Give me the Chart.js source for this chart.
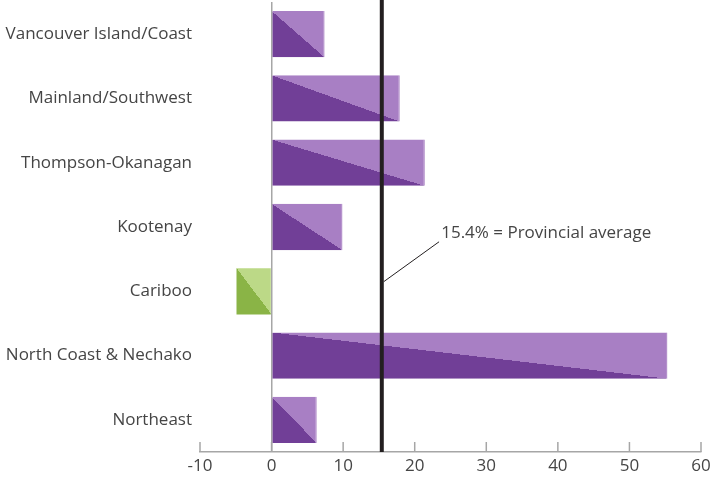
<!DOCTYPE html>
<html>
<head>
<meta charset="utf-8">
<script src="https://cdn.jsdelivr.net/npm/chart.js@4"></script>
<style>
  html, body { margin: 0; padding: 0; background: #fff; }
  #wrap { width: 723px; height: 482px; }
</style>
</head>
<body>
<div id="wrap"><canvas id="regionChart"></canvas></div>
<script>
// Data
const regions = [
    'Vancouver Island/Coast',
    'Mainland/Southwest',
    'Thompson-Okanagan',
    'Kootenay',
    'Cariboo',
    'North Coast & Nechako',
    'Northeast'
];
const changes = [7.4, 17.9, 21.4, 9.9, -4.9, 55.3, 6.3];
const xTicks = [-10, 0, 10, 20, 30, 40, 50, 60];
const provincialAverage = 15.4;
const averageLabel = '15.4% = Provincial average';

const BAR_PCT = 0.72;
const FONT = '"Open Sans", "Noto Sans", sans-serif';
const TEXT = '#454545';
const AXIS = '#a6a6a6';

// Two-tone fill split along the bar's diagonal (dark bottom-left, light top-right)
function splitFill(context) {
    const chart = context.chart;
    const xs = chart.scales.x, ys = chart.scales.y;
    if (!chart.chartArea || !xs || !ys) return '#a87fc4';
    const v = context.raw;
    const dark = v < 0 ? '#8ab446' : '#713f97';
    const light = v < 0 ? '#bcd987' : '#a87fc4';
    const xa = xs.getPixelForValue(Math.min(0, v));
    const xb = xs.getPixelForValue(Math.max(0, v));
    const yc = ys.getPixelForValue(context.dataIndex);
    const step = ys.getPixelForValue(1) - ys.getPixelForValue(0);
    const h = Math.abs(step) * BAR_PCT;
    const w = xb - xa;
    const cx = (xa + xb) / 2;
    const dx = -h / 2, dy = w / 2;
    const g = chart.ctx.createLinearGradient(cx + dx, yc + dy, cx - dx, yc - dy);
    g.addColorStop(0, dark);
    g.addColorStop(0.5, dark);
    g.addColorStop(0.5, light);
    g.addColorStop(1, light);
    return g;
}

// Upward tick marks, the average line and its callout
const overlay = {
    id: 'overlay',
    afterDatasetsDraw(chart) {
        const ctx = chart.ctx;
        const xs = chart.scales.x, ys = chart.scales.y;
        const area = chart.chartArea;
        ctx.save();

        ctx.strokeStyle = AXIS;
        ctx.lineWidth = 1.5;
        xs.ticks.forEach((t, i) => {
            const px = xs.getPixelForTick(i);
            ctx.beginPath();
            ctx.moveTo(px, area.bottom);
            ctx.lineTo(px, area.bottom - 10);
            ctx.stroke();
        });

        const ax = xs.getPixelForValue(provincialAverage);
        ctx.strokeStyle = '#231f20';
        ctx.lineWidth = 4;
        ctx.beginPath();
        ctx.moveTo(ax, 0);
        ctx.lineTo(ax, area.bottom);
        ctx.stroke();

        ctx.lineWidth = 1;
        ctx.beginPath();
        ctx.moveTo(ax + 2, ys.getPixelForValue(3.85));
        ctx.lineTo(xs.getPixelForValue(23.4), ys.getPixelForValue(3.23));
        ctx.stroke();

        ctx.fillStyle = TEXT;
        ctx.font = '17px ' + FONT;
        ctx.textAlign = 'left';
        ctx.textBaseline = 'middle';
        ctx.fillText(averageLabel, xs.getPixelForValue(23.7), ys.getPixelForValue(3.09));
        ctx.restore();
    }
};

const ctx = document.getElementById('regionChart').getContext('2d');
new Chart(ctx, {
    type: 'bar',
    data: {
        labels: regions,
        datasets: [{
            data: changes,
            backgroundColor: splitFill,
            borderColor: '#9563b5',
            borderWidth: c => (c.raw < 0 ? 0 : { top: 0, right: 1, bottom: 0, left: 0 }),
            borderSkipped: false,
            barPercentage: BAR_PCT,
            categoryPercentage: 1
        }]
    },
    options: {
        indexAxis: 'y',
        responsive: true,
        maintainAspectRatio: false,
        animation: false,
        layout: { padding: { top: 2, right: 22, bottom: 0, left: 0 } },
        plugins: {
            legend: { display: false },
            tooltip: { enabled: false }
        },
        scales: {
            x: {
                type: 'linear',
                min: -10,
                max: 60,
                afterBuildTicks: s => { s.ticks = xTicks.map(v => ({ value: v })); },
                afterFit: s => {
                    s.height = 30;
                    s.paddingLeft = 0;
                    s.paddingRight = 0;
                },
                border: { display: true, color: AXIS, width: 1.5 },
                grid: {
                    drawTicks: false,
                    color: c => (c.tick && c.tick.value === 0 ? AXIS : 'transparent'),
                    lineWidth: 1.5
                },
                ticks: {
                    padding: 4,
                    color: TEXT,
                    font: { family: FONT, size: 17 }
                }
            },
            y: {
                afterFit: s => {
                    s.width = 200;
                    s.paddingTop = 0;
                    s.paddingBottom = 0;
                },
                border: { display: false },
                grid: { display: false, drawTicks: false },
                ticks: {
                    padding: 8,
                    color: TEXT,
                    font: { family: FONT, size: 17 }
                }
            }
        }
    },
    plugins: [overlay]
});
</script>
</body>
</html>
